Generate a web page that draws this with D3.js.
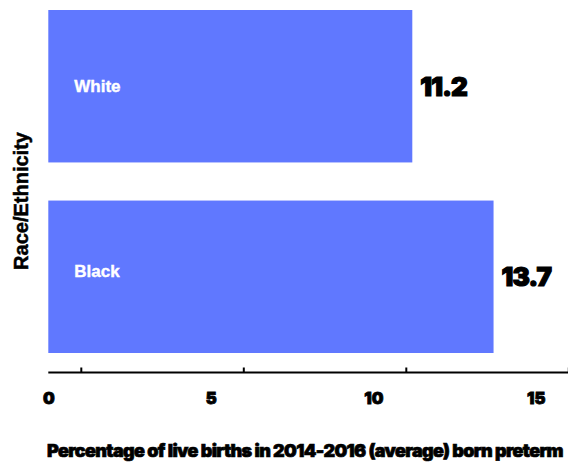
<!DOCTYPE html>
<html>
<head>
<meta charset="utf-8">
<script src="https://cdn.jsdelivr.net/npm/d3@7"></script>
<style>
  body { margin: 0; background: #fff; }
</style>
</head>
<body>
<div id="chart"></div>
<script>
// Data
const categories = ["White", "Black"]
const values = [11.2, 13.7]
const tickValues = [0, 5, 10, 15]
const xTitle = "Percentage of live births in 2014-2016 (average) born preterm"
const yTitle = "Race/Ethnicity"

function draw() {
  const dimensions = { width: 568, height: 462 }
  const heavyFont = 'Inter, sans-serif'

  const svg = d3.select('#chart')
    .append('svg')
    .attr('width', dimensions.width)
    .attr('height', dimensions.height)

  // Scales
  const xScale = d3.scaleLinear()
    .domain([0, 16])
    .range([48.3, 568.3])

  const yScale = d3.scaleBand()
    .domain(categories)
    .range([10, 353])
    .paddingInner(0.2)
    .paddingOuter(0)

  const data = categories.map((c, i) => ({ cat: c, val: values[i] }))

  // bars
  svg.append('g')
    .selectAll('rect')
    .data(data)
    .join('rect')
    .attr('x', xScale(0))
    .attr('y', d => yScale(d.cat))
    .attr('width', d => xScale(d.val) - xScale(0))
    .attr('height', yScale.bandwidth())
    .attr('fill', '#6078ff')

  // category labels inside bars
  svg.append('g')
    .selectAll('text')
    .data(data)
    .join('text')
    .attr('x', xScale(0) + 26)
    .attr('y', d => yScale(d.cat) + yScale.bandwidth() / 2)
    .attr('dy', d => d.cat === 'Black' ? '0.0em' : '0.35em')
    .attr('fill', '#fff')
    .attr('stroke', '#fff')
    .attr('stroke-width', 0.4)
    .style('font-family', '"Liberation Sans", Arial, sans-serif')
    .style('font-weight', 'bold')
    .style('font-size', '17px')
    .text(d => d.cat)

  // value labels
  svg.append('g')
    .selectAll('text')
    .data(data)
    .join('text')
    .attr('x', d => xScale(d.val) + 8)
    .attr('y', d => yScale(d.cat) + yScale.bandwidth() / 2)
    .attr('dy', '0.36em')
    .attr('fill', '#000')
    .attr('stroke', '#000')
    .attr('stroke-width', 1.2)
    .style('font-family', heavyFont)
    .style('font-weight', '900')
    .style('font-size', '26px')
    .style('letter-spacing', '-0.8px')
    .text(d => d.val.toFixed(1))

  // x axis
  const axisY = 372.5
  const xAxis = d3.axisBottom(xScale)
    .tickValues(tickValues)
    .tickSize(-5)
    .tickPadding(20)
    .tickFormat(d3.format('d'))

  const axisG = svg.append('g')
    .attr('transform', `translate(0, ${axisY})`)
    .call(xAxis)

  axisG.select('.domain')
    .attr('d', `M${xScale(0)},0H${dimensions.width}`)
    .attr('stroke', '#000')
    .attr('stroke-width', 2.2)

  // tick marks sit one unit to the right of their labels in the original
  const tickShift = xScale(1) - xScale(0)
  axisG.selectAll('.tick line')
    .attr('x1', tickShift)
    .attr('x2', tickShift)
    .attr('stroke', '#000')
    .attr('stroke-width', 2)

  axisG.selectAll('.tick text')
    .attr('fill', '#000')
    .attr('stroke', '#000')
    .attr('stroke-width', 0.8)
    .style('font-family', heavyFont)
    .style('font-weight', '900')
    .style('font-size', '16.5px')

  // axis titles
  svg.append('text')
    .attr('x', 47)
    .attr('y', 457)
    .attr('fill', '#000')
    .attr('stroke', '#000')
    .attr('stroke-width', 0.7)
    .style('font-family', heavyFont)
    .style('font-weight', '900')
    .style('font-size', '18px')
    .style('letter-spacing', '-0.65px')
    .text(xTitle)

  svg.append('text')
    .attr('transform', 'translate(28, 201) rotate(-90)')
    .attr('text-anchor', 'middle')
    .attr('fill', '#000')
    .attr('stroke', '#000')
    .attr('stroke-width', 0.5)
    .style('font-family', '"Liberation Sans", Arial, sans-serif')
    .style('font-weight', 'bold')
    .style('font-size', '20px')
    .text(yTitle)
}

draw()
</script>
</body>
</html>
